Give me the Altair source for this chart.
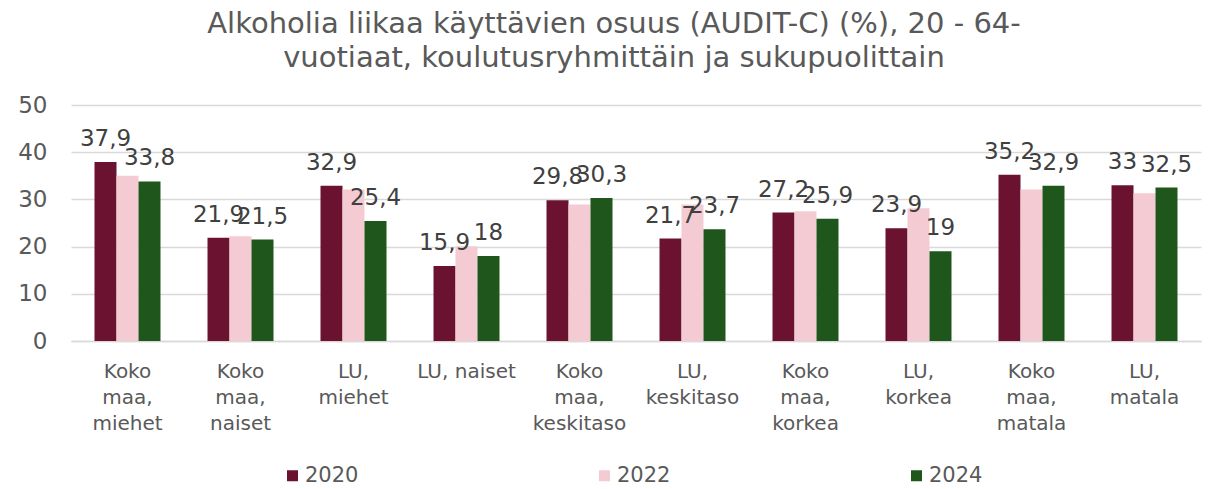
import altair as alt
import pandas as pd

categories = ["Koko maa, miehet", "Koko maa, naiset", "LU, miehet", "LU, naiset",
              "Koko maa, keskitaso", "LU, keskitaso", "Koko maa, korkea", "LU, korkea",
              "Koko maa, matala", "LU, matala"]
years = ["2020", "2022", "2024"]
v2020 = [37.9, 21.9, 32.9, 15.9, 29.8, 21.7, 27.2, 23.9, 35.2, 33.0]
v2022 = [35.0, 22.2, 32.1, 20.1, 28.9, 28.9, 27.5, 28.1, 32.1, 31.3]
v2024 = [33.8, 21.5, 25.4, 18.0, 30.3, 23.7, 25.9, 19.0, 32.9, 32.5]
colors = ["#6b1230", "#f4cbd3", "#1e561c"]

rows = []
for i, c in enumerate(categories):
    for y, vals in zip(years, [v2020, v2022, v2024]):
        v = vals[i]
        lab = (str(int(v)) if v == int(v) else f"{v:.1f}".replace(".", ","))
        rows.append({"cat": c, "year": y, "value": v, "label": lab})
df = pd.DataFrame(rows)

FONT = "DejaVu Sans"
GREY = "#595959"

x = alt.X("cat:N", sort=categories, title=None,
          scale=alt.Scale(paddingInner=0.416, paddingOuter=0.208),
          axis=alt.Axis(labelAngle=0, labelFontSize=20, labelColor=GREY, labelFont=FONT,
                        ticks=False, domainColor="#d9d9d9", domainWidth=1.5,
                        labelPadding=20, labelLineHeight=26, labelLimit=200,
                        labelExpr="datum.label == 'LU, naiset' ? datum.label : split(datum.label, ' ')"))
xo = alt.XOffset("year:N", sort=years, scale=alt.Scale(domain=years))

base = alt.Chart(df)

bars = base.mark_bar().encode(
    x=x, xOffset=xo,
    y=alt.Y("value:Q", title=None,
            scale=alt.Scale(domain=[0, 50]),
            axis=alt.Axis(values=[0, 10, 20, 30, 40, 50], labelFontSize=23, labelColor=GREY,
                          labelFont=FONT, ticks=False, domain=False, gridColor="#d9d9d9",
                          gridWidth=1.5, labelPadding=24)),
    color=alt.Color("year:N", sort=years, scale=alt.Scale(domain=years, range=colors),
                    legend=alt.Legend(title=None, orient="none", direction="horizontal",
                                      legendX=211, legendY=360, symbolType="square",
                                      symbolSize=121, symbolStrokeWidth=0,
                                      labelFontSize=21, labelColor=GREY, labelFont=FONT,
                                      columnPadding=235, labelOffset=2)),
)

texts = base.transform_filter("datum.year != '2022'").mark_text(
    baseline="alphabetic", dy=-16, fontSize=23, font=FONT, color="#404040"
).encode(x=x, xOffset=xo, y="value:Q", text="label:N")

chart = alt.layer(bars, texts).properties(
    width=1130, height=236,
    padding={"left": 63, "top": 97, "right": 10, "bottom": 146},
    autosize=alt.AutoSizeParams(type="none"),
    title=alt.TitleParams(
        ["Alkoholia liikaa käyttävien osuus (AUDIT-C) (%), 20 - 64-",
         "vuotiaat, koulutusryhmittäin ja sukupuolittain"],
        fontSize=29, font=FONT, color=GREY, fontWeight="normal",
        anchor="middle", offset=21, lineHeight=34, dx=-22),
).configure_view(stroke=None)

chart.save("out.html", embed_options={"renderer": "svg", "actions": False})
